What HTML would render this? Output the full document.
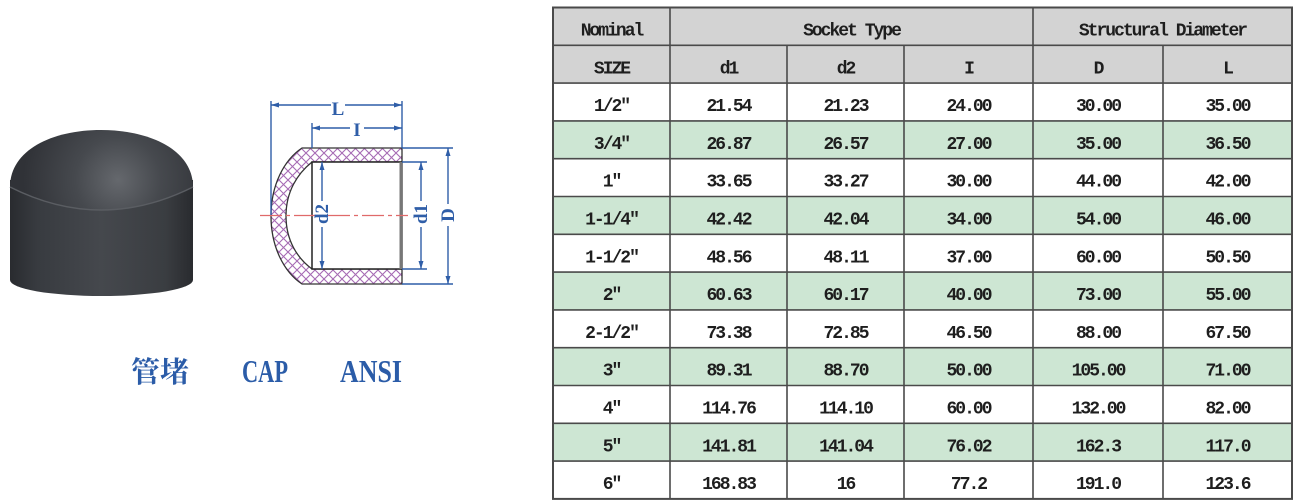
<!DOCTYPE html>
<html><head><meta charset="utf-8"><style>
html,body{margin:0;padding:0;background:#fff;}
body{width:1295px;height:503px;overflow:hidden;}
svg{display:block;}
.t{font-family:"Liberation Mono","Noto Sans CJK SC",monospace;font-weight:bold;font-size:18px;letter-spacing:-2px;fill:#1e1e1e;}
.dl{font-family:"Liberation Serif",serif;font-size:19px;fill:#2f5ea8;}
</style></head><body>
<svg width="1295" height="503" viewBox="0 0 1295 503" xmlns="http://www.w3.org/2000/svg">
<defs>
<linearGradient id="gb" x1="0" y1="0" x2="1" y2="0">
<stop offset="0" stop-color="#292b2f"/><stop offset="0.15" stop-color="#383b40"/><stop offset="0.5" stop-color="#45484d"/><stop offset="0.85" stop-color="#3a3d41"/><stop offset="1" stop-color="#292b2f"/>
</linearGradient>
<radialGradient id="gd" cx="118" cy="180" r="95" gradientUnits="userSpaceOnUse">
<stop offset="0" stop-color="#65686d"/><stop offset="0.45" stop-color="#46494e"/><stop offset="1" stop-color="#303237"/>
</radialGradient>
<pattern id="hx" patternUnits="userSpaceOnUse" width="9" height="9">
<rect width="9" height="9" fill="#fff"/>
<path d="M0,0 L9,9 M9,0 L0,9" stroke="#a66ab4" stroke-width="1.1"/>
</pattern>
</defs>

<!-- photo of cap -->
<path d="M10,180 L10,280 A91.5,16 0 0 0 193,280 L193,180 Z" fill="url(#gb)"/>
<path d="M10,187 C10,150 52,130 101,130 C150,130 193,150 193,187 Q101,233 10,187 Z" fill="url(#gd)"/>
<path d="M10,187 Q101,233 193,187" fill="none" stroke="#5a5d62" stroke-width="1.5"/>

<!-- drawing -->
<path d="M402,148 L302,148 C284,160 271,185 271,216 C271,247 284,272 302,284 L402,284 L402,269 L312,269 C297,258 286,240 286,216 C286,192 297,174 312,162 L402,162 Z" fill="url(#hx)" stroke="#333" stroke-width="1.3"/>
<rect x="312" y="162" width="90" height="107" fill="#fff" stroke="#222" stroke-width="1.5"/>
<line x1="401" y1="162" x2="401" y2="269" stroke="#777" stroke-width="3"/>
<line x1="260" y1="215.5" x2="408" y2="215.5" stroke="#e06a6a" stroke-width="1.3" stroke-dasharray="22,4,4,4"/>

<g stroke="#2f5ea8" stroke-width="1.4" fill="none">
<line x1="271" y1="101" x2="271" y2="215"/>
<line x1="402" y1="101" x2="402" y2="148"/>
<line x1="312" y1="123" x2="312" y2="148"/>
<line x1="271" y1="105" x2="331" y2="105"/><line x1="345" y1="105" x2="402" y2="105"/>
<line x1="312" y1="128" x2="350" y2="128"/><line x1="364" y1="128" x2="402" y2="128"/>
<line x1="402" y1="148" x2="453" y2="148"/><line x1="402" y1="284" x2="453" y2="284"/>
<line x1="402" y1="162" x2="427" y2="162"/><line x1="402" y1="269" x2="427" y2="269"/>
<line x1="448" y1="148" x2="448" y2="204"/><line x1="448" y1="226" x2="448" y2="284"/>
<line x1="421" y1="162" x2="421" y2="201"/><line x1="421" y1="227" x2="421" y2="269"/>
<line x1="322" y1="162" x2="322" y2="201"/><line x1="322" y1="227" x2="322" y2="269"/>
</g>
<g fill="#2f5ea8">
<polygon points="271,105 279,102.5 279,107.5"/><polygon points="402,105 394,102.5 394,107.5"/>
<polygon points="312,128 320,125.5 320,130.5"/><polygon points="402,128 394,125.5 394,130.5"/>
<polygon points="448,148 445.5,156 450.5,156"/><polygon points="448,284 445.5,276 450.5,276"/>
<polygon points="421,162 418.5,170 423.5,170"/><polygon points="421,269 418.5,261 423.5,261"/>
<polygon points="322,162 319.5,170 324.5,170"/><polygon points="322,269 319.5,261 324.5,261"/>
</g>
<text class="dl" x="338" y="115" text-anchor="middle" font-weight="bold">L</text>
<text class="dl" x="357" y="136" text-anchor="middle" font-weight="bold">I</text>
<text class="dl" transform="translate(454,215) rotate(-90)" text-anchor="middle" font-weight="bold">D</text>
<text class="dl" transform="translate(427,214) rotate(-90)" text-anchor="middle" font-weight="bold">d1</text>
<text class="dl" transform="translate(328,214) rotate(-90)" text-anchor="middle" font-weight="bold">d2</text>

<!-- caption -->
<text x="131" y="382" font-family="'Noto Serif CJK SC','Noto Sans CJK SC',serif" font-size="29" font-weight="bold" fill="#2b5ca8">管堵</text>
<text x="242" y="382" font-family="'Liberation Serif',serif" font-size="32" font-weight="bold" fill="#2b5ca8" textLength="46" lengthAdjust="spacingAndGlyphs">CAP</text>
<text x="340" y="382" font-family="'Liberation Serif',serif" font-size="32" font-weight="bold" fill="#2b5ca8" textLength="62" lengthAdjust="spacingAndGlyphs">ANSI</text>

<!-- table backgrounds -->
<rect x="553" y="7.5" width="739" height="75.6" fill="#d3d3d3"/>
<g fill="#cde6d3">
<rect x="553" y="120.9" width="739" height="37.8"/>
<rect x="553" y="196.5" width="739" height="37.8"/>
<rect x="553" y="272.1" width="739" height="37.8"/>
<rect x="553" y="347.7" width="739" height="37.8"/>
<rect x="553" y="423.3" width="739" height="37.8"/>
</g>
<!-- grid -->
<g stroke="#4a4a4a" stroke-width="1.6">
<rect x="553" y="7.5" width="739" height="491.4" fill="none" stroke-width="2"/>
<line x1="670" y1="7.5" x2="670" y2="498.9"/>
<line x1="787" y1="45.3" x2="787" y2="498.9"/>
<line x1="904" y1="45.3" x2="904" y2="498.9"/>
<line x1="1033" y1="7.5" x2="1033" y2="498.9"/>
<line x1="1163" y1="45.3" x2="1163" y2="498.9"/>
<line x1="553" y1="45.3" x2="1292" y2="45.3"/>
<line x1="553" y1="83.1" x2="1292" y2="83.1"/>
<line x1="553" y1="120.9" x2="1292" y2="120.9"/>
<line x1="553" y1="158.7" x2="1292" y2="158.7"/>
<line x1="553" y1="196.5" x2="1292" y2="196.5"/>
<line x1="553" y1="234.3" x2="1292" y2="234.3"/>
<line x1="553" y1="272.1" x2="1292" y2="272.1"/>
<line x1="553" y1="309.9" x2="1292" y2="309.9"/>
<line x1="553" y1="347.7" x2="1292" y2="347.7"/>
<line x1="553" y1="385.5" x2="1292" y2="385.5"/>
<line x1="553" y1="423.3" x2="1292" y2="423.3"/>
<line x1="553" y1="461.1" x2="1292" y2="461.1"/>
</g>

<g class="t" text-anchor="middle">
<text x="611.5" y="35.5">Nominal</text>
<text x="851.5" y="35.5">Socket Type</text>
<text x="1162.5" y="35.5">Structural Diameter</text>
<text x="611.5" y="73.3">SIZE</text>
<text x="728.5" y="73.3">d1</text>
<text x="845.5" y="73.3">d2</text>
<text x="968.5" y="73.3">I</text>
<text x="1098" y="73.3">D</text>
<text x="1227.5" y="73.3">L</text>
</g>
<g class="t" text-anchor="middle">
<g transform="translate(0,111.1)">
<text x="611.5">1/2″</text><text x="728.5">21.54</text><text x="845.5">21.23</text><text x="968.5">24.00</text><text x="1098">30.00</text><text x="1227.5">35.00</text></g>
<g transform="translate(0,148.9)">
<text x="611.5">3/4″</text><text x="728.5">26.87</text><text x="845.5">26.57</text><text x="968.5">27.00</text><text x="1098">35.00</text><text x="1227.5">36.50</text></g>
<g transform="translate(0,186.7)">
<text x="611.5">1″</text><text x="728.5">33.65</text><text x="845.5">33.27</text><text x="968.5">30.00</text><text x="1098">44.00</text><text x="1227.5">42.00</text></g>
<g transform="translate(0,224.5)">
<text x="611.5">1-1/4″</text><text x="728.5">42.42</text><text x="845.5">42.04</text><text x="968.5">34.00</text><text x="1098">54.00</text><text x="1227.5">46.00</text></g>
<g transform="translate(0,262.3)">
<text x="611.5">1-1/2″</text><text x="728.5">48.56</text><text x="845.5">48.11</text><text x="968.5">37.00</text><text x="1098">60.00</text><text x="1227.5">50.50</text></g>
<g transform="translate(0,300.1)">
<text x="611.5">2″</text><text x="728.5">60.63</text><text x="845.5">60.17</text><text x="968.5">40.00</text><text x="1098">73.00</text><text x="1227.5">55.00</text></g>
<g transform="translate(0,337.9)">
<text x="611.5">2-1/2″</text><text x="728.5">73.38</text><text x="845.5">72.85</text><text x="968.5">46.50</text><text x="1098">88.00</text><text x="1227.5">67.50</text></g>
<g transform="translate(0,375.7)">
<text x="611.5">3″</text><text x="728.5">89.31</text><text x="845.5">88.70</text><text x="968.5">50.00</text><text x="1098">105.00</text><text x="1227.5">71.00</text></g>
<g transform="translate(0,413.5)">
<text x="611.5">4″</text><text x="728.5">114.76</text><text x="845.5">114.10</text><text x="968.5">60.00</text><text x="1098">132.00</text><text x="1227.5">82.00</text></g>
<g transform="translate(0,451.3)">
<text x="611.5">5″</text><text x="728.5">141.81</text><text x="845.5">141.04</text><text x="968.5">76.02</text><text x="1098">162.3</text><text x="1227.5">117.0</text></g>
<g transform="translate(0,489.1)">
<text x="611.5">6″</text><text x="728.5">168.83</text><text x="845.5">16</text><text x="968.5">77.2</text><text x="1098">191.0</text><text x="1227.5">123.6</text></g>
</g>
</svg>
</body></html>
